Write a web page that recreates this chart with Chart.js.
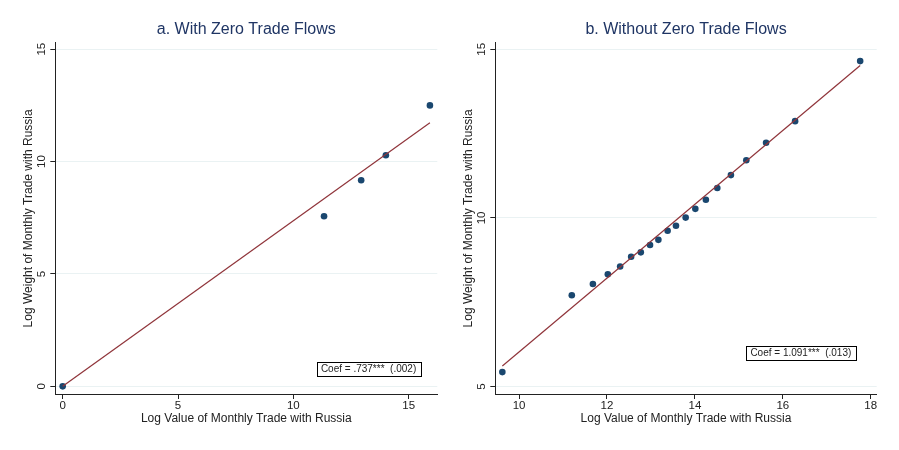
<!DOCTYPE html>
<html>
<head>
<meta charset="utf-8">
<script src="https://cdn.jsdelivr.net/npm/chart.js@4.4.1/dist/chart.umd.min.js"></script>
<style>
  html, body { margin: 0; padding: 0; background: #ffffff; }
  #wrap { position: relative; width: 899px; height: 450px; overflow: hidden; }
  .panel { position: absolute; top: 0; height: 450px; }
  #pa { left: 0; width: 450px; }
  #pb { left: 450px; width: 449px; }
</style>
</head>
<body>
<div id="wrap">
  <div class="panel" id="pa"><canvas id="ca" width="450" height="450"></canvas></div>
  <div class="panel" id="pb"><canvas id="cb" width="449" height="450"></canvas></div>
</div>
<script>
// ---------- Panel a: With Zero Trade Flows ----------
const titleA = "a. With Zero Trade Flows";
const xA = [0, 11.33, 12.94, 14.01, 15.92];
const yA = [0, 7.57, 9.17, 10.28, 12.50];
const fitXA = [0, 15.92];
const fitYA = [0, 11.73];
const xTicksA = [0, 5, 10, 15];
const yTicksA = [0, 5, 10, 15];
const coefA = "Coef = .737***  (.002)";
const coefPosA = [13.26, 0.79];

// ---------- Panel b: Without Zero Trade Flows ----------
const titleB = "b. Without Zero Trade Flows";
const xB = [9.62, 11.20, 11.68, 12.02, 12.30, 12.55, 12.77, 12.98, 13.17, 13.38,
            13.57, 13.79, 14.01, 14.25, 14.51, 14.82, 15.17, 15.62, 16.28, 17.76];
const yB = [5.43, 7.71, 8.04, 8.33, 8.56, 8.85, 8.98, 9.20, 9.35, 9.62,
            9.77, 10.01, 10.27, 10.54, 10.89, 11.27, 11.71, 12.23, 12.87, 14.65];
const fitXB = [9.62, 17.76];
const fitYB = [5.61, 14.52];
const xTicksB = [10, 12, 14, 16, 18];
const yTicksB = [5, 10, 15];
const coefB = "Coef = 1.091***  (.013)";
const coefPosB = [16.41, 6.0];

const xTitle = "Log Value of Monthly Trade with Russia";
const yTitle = "Log Weight of Monthly Trade with Russia";

const FONT = "'Liberation Sans', Arial, Helvetica, sans-serif";
const MARKER = "#1a476f";
const FITCOL = "#90353b";
const GRID = "#eaf2f3";
const AXIS = "#222222";
const TEXT = "#222222";

function pts(xs, ys) { return xs.map((x, i) => ({ x: x, y: ys[i] })); }

const coefPlugin = {
  id: 'coefBox',
  afterDraw(chart, args, opts) {
    const ctx = chart.ctx;
    const xs = chart.scales.x, ys = chart.scales.y;
    const cx = xs.getPixelForValue(opts.pos[0]);
    const cy = ys.getPixelForValue(opts.pos[1]);
    ctx.save();
    ctx.font = "10px " + FONT;
    const w = Math.round(ctx.measureText(opts.text).width + 9);
    const h = 14;
    const x0 = Math.round(cx - w / 2) + 0.5, y0 = Math.round(cy - h / 2) + 0.5;
    ctx.fillStyle = "#ffffff";
    ctx.fillRect(x0, y0, w, h);
    ctx.strokeStyle = "#000000";
    ctx.lineWidth = 1;
    ctx.strokeRect(x0, y0, w, h);
    ctx.fillStyle = TEXT;
    ctx.textAlign = "center";
    ctx.textBaseline = "middle";
    ctx.fillText(opts.text, cx, cy + 0.5);
    ctx.restore();
  }
};

function makeChart(id, cfg) {
  return new Chart(document.getElementById(id), {
    data: {
      datasets: [
        {
          type: 'line',
          data: pts(cfg.fitX, cfg.fitY),
          borderColor: FITCOL,
          borderWidth: 1.2,
          pointRadius: 0,
          fill: false,
          tension: 0
        },
        {
          type: 'scatter',
          data: pts(cfg.x, cfg.y),
          backgroundColor: MARKER,
          borderColor: MARKER,
          borderWidth: 0,
          pointRadius: 3.3,
          pointHoverRadius: 3.3
        }
      ]
    },
    options: {
      responsive: false,
      animation: false,
      devicePixelRatio: 1,
      layout: { padding: { left: 0, top: 0, bottom: 0, right: cfg.padR } },
      plugins: {
        legend: { display: false },
        tooltip: { enabled: false },
        title: {
          display: true,
          text: cfg.title,
          fullSize: false,
          color: "#1f3564",
          font: { family: FONT, size: 16, weight: 'normal' },
          padding: { top: 20.4, bottom: 3.1 }
        },
        coefBox: { text: cfg.coef, pos: cfg.coefPos }
      },
      scales: {
        x: {
          type: 'linear',
          min: cfg.xMin, max: cfg.xMax,
          afterBuildTicks: (s) => { s.ticks = cfg.xTicks.map(v => ({ value: v })); },
          afterFit: (s) => { s.height = 56; },
          grid: { drawOnChartArea: false, drawTicks: true, tickLength: 5, tickColor: AXIS, tickWidth: 1 },
          border: { display: true, color: AXIS, width: 1 },
          ticks: { color: TEXT, font: { family: FONT, size: 11.5 }, padding: 0, maxRotation: 0, minRotation: 0 },
          title: { display: true, text: xTitle, color: TEXT, font: { family: FONT, size: 12 }, padding: { top: 0, bottom: 24.5 } }
        },
        y: {
          type: 'linear',
          min: cfg.yMin, max: cfg.yMax,
          afterBuildTicks: (s) => { s.ticks = cfg.yTicks.map(v => ({ value: v })); },
          afterFit: (s) => { s.width = cfg.yW; },
          grid: { drawOnChartArea: true, color: GRID, lineWidth: 1, drawTicks: true, tickLength: 5, tickColor: AXIS, tickWidth: 1 },
          border: { display: true, color: AXIS, width: 1 },
          ticks: { color: TEXT, font: { family: FONT, size: 11.5 }, padding: 2, minRotation: 90, maxRotation: 90, crossAlign: 'center' },
          title: { display: true, text: yTitle, color: TEXT, font: { family: FONT, size: 12 }, padding: { top: cfg.yTitlePad, bottom: 0 } }
        }
      }
    },
    plugins: [coefPlugin]
  });
}

makeChart('ca', {
  title: titleA, x: xA, y: yA, fitX: fitXA, fitY: fitYA,
  xTicks: xTicksA, yTicks: yTicksA, coef: coefA, coefPos: coefPosA,
  xMin: -0.32, xMax: 16.24, yMin: -0.34, yMax: 15.29, yW: 55.3, yTitlePad: 21.3, padR: 12.7
});
makeChart('cb', {
  title: titleB, x: xB, y: yB, fitX: fitXB, fitY: fitYB,
  xTicks: xTicksB, yTicks: yTicksB, coef: coefB, coefPos: coefPosB,
  xMin: 9.46, xMax: 18.136, yMin: 4.78, yMax: 15.196, yW: 45.3, yTitlePad: 11.3, padR: 22.3
});
</script>
</body>
</html>
